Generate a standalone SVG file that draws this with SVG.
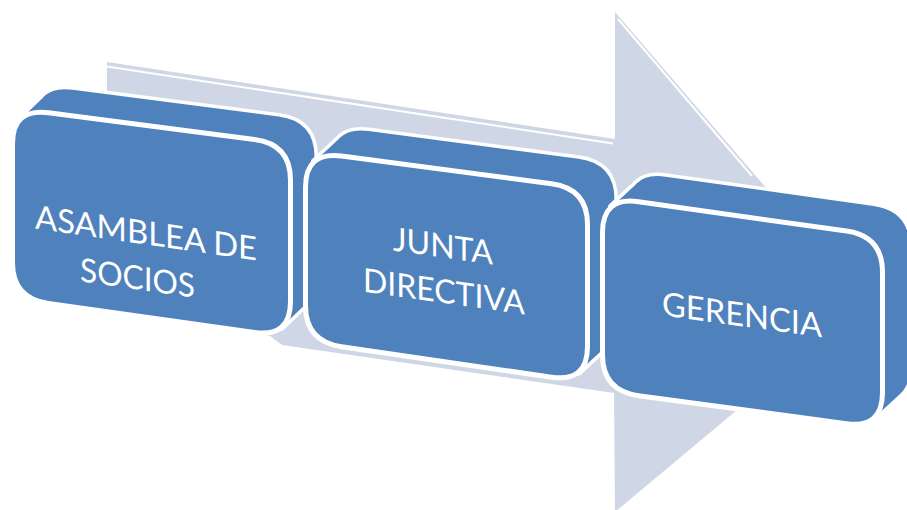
<svg xmlns="http://www.w3.org/2000/svg" xmlns:xlink="http://www.w3.org/1999/xlink" width="907" height="510" viewBox="0 0 907 510">
<style>
.arrow{fill:#CFD7E6}
.bevel{fill:none;stroke:#FFFFFF;stroke-width:2}
.sil{fill:#4F81BD;stroke:#FFFFFF;stroke-width:7;stroke-linejoin:round}
.fill{fill:#4F81BD;stroke:none}
.face{fill:#4F81BD;stroke:#FFFFFF;stroke-width:5;stroke-linejoin:round}
.lbl{font-family:Lato,"Open Sans","Liberation Sans",sans-serif;font-size:33px;fill:#FFFFFF;text-anchor:middle}
</style>
<defs>
<path id="f1" d="M48.5,112.7 L254.5,139.5 Q290.5,144.1 290.5,180.1 L290.5,301.5 Q290.5,337.5 254.5,332.5 L48.5,303.6 Q12.5,298.6 12.5,262.6 L12.5,144 Q12.5,108 48.5,112.7 Z"/>
<path id="f2" d="M341.5,156 L551.5,183.7 Q587.5,188.5 587.5,224.5 L587.5,346.4 Q587.5,382.4 551.5,377.2 L341.5,346.7 Q305.5,341.5 305.5,305.5 L305.5,187.3 Q305.5,151.3 341.5,156 Z"/>
<path id="f3" d="M638.5,201.7 L846.5,231.1 Q882.5,236.2 882.5,272.2 L882.5,392.6 Q882.5,428.6 846.5,423.7 L638.5,395.7 Q602.5,390.8 602.5,354.8 L602.5,232.6 Q602.5,196.6 638.5,201.7 Z"/>
</defs>
<rect width="907" height="510" fill="#FFFFFF"/>
<g id="arrow">
<polygon class="arrow" points="107,62 615,139 615,12 865,303 615,512 614,393 282,345 270,336 107,300"/>
<polyline class="bevel" points="107,66.5 613,143.5"/>
<polyline class="bevel" points="618,19 752,176"/>
</g>
<g id="node-asamblea">
<use xlink:href="#f1" class="sil" transform="translate(24,-23)"/>
<polygon class="sil" points="21.6,118.2 45.6,95.2 305.5,304.25 281.5,327.25"/>
<use xlink:href="#f1" class="fill" transform="translate(24,-23)"/>
<polygon class="fill" points="21.6,118.2 45.6,95.2 305.5,304.25 281.5,327.25"/>
<use xlink:href="#f1" class="face"/>
<text class="lbl" transform="translate(146,244.5) skewY(8.2)" textLength="222" lengthAdjust="spacingAndGlyphs">ASAMBLEA DE</text>
<text class="lbl" transform="translate(137.5,289.5) skewY(8.2)" textLength="115" lengthAdjust="spacingAndGlyphs">SOCIOS</text>
</g>
<g id="node-junta">
<use xlink:href="#f2" class="sil" transform="translate(27,-25)"/>
<polygon class="sil" points="314.5,161.5 341.5,136.5 605.5,347.1 578.5,372.1"/>
<use xlink:href="#f2" class="fill" transform="translate(27,-25)"/>
<polygon class="fill" points="314.5,161.5 341.5,136.5 605.5,347.1 578.5,372.1"/>
<use xlink:href="#f2" class="face"/>
<text class="lbl" transform="translate(443,257.5) skewY(8.1)" textLength="100" lengthAdjust="spacingAndGlyphs">JUNTA</text>
<text class="lbl" transform="translate(444,303) skewY(8.1)" textLength="162" lengthAdjust="spacingAndGlyphs">DIRECTIVA</text>
</g>
<g id="node-gerencia">
<use xlink:href="#f3" class="sil" transform="translate(27,-25)"/>
<polygon class="sil" points="611.5,206.9 638.5,181.9 900.5,393.4 873.5,418.4"/>
<use xlink:href="#f3" class="fill" transform="translate(27,-25)"/>
<polygon class="fill" points="611.5,206.9 638.5,181.9 900.5,393.4 873.5,418.4"/>
<use xlink:href="#f3" class="face"/>
<text class="lbl" transform="translate(742,326.3) skewY(7.8)" textLength="160" lengthAdjust="spacingAndGlyphs">GERENCIA</text>
</g>
</svg>
